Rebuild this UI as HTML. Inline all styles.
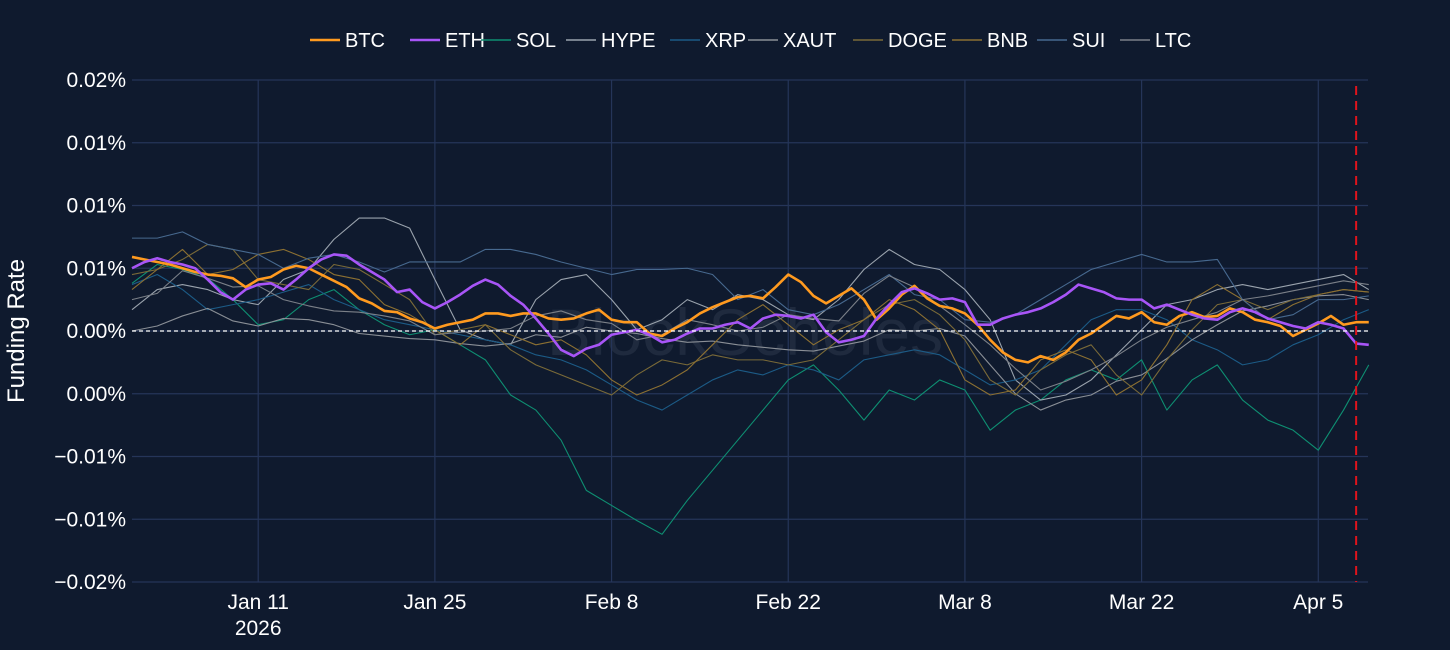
<!DOCTYPE html>
<html><head><meta charset="utf-8"><style>
html,body{margin:0;padding:0;background:#0f1a2e;}
svg{display:block;font-family:"Liberation Sans",Arial,sans-serif;}
</style></head><body>
<svg id="chart" width="1450" height="650" viewBox="0 0 1450 650">
<rect x="0" y="0" width="1450" height="650" fill="#0f1a2e"/>
<text x="745" y="355" text-anchor="middle" font-size="66" fill="#1f2a3e">BlockScholes</text>
<g id="grid"></g>
<g id="series"></g>
<g id="axes"></g>
<g id="legend"></g>
<text transform="translate(24,331) rotate(-90)" text-anchor="middle" font-size="24" fill="#ffffff">Funding Rate</text>
</svg>
<script>
// values in units of 0.001%
const yTickVals = [20,15,10,5,0,-5,-10,-15,-20];
const yTickLabels = ["0.02%","0.01%","0.01%","0.01%","0.00%","0.00%","−0.01%","−0.01%","−0.02%"];
const xTickDays = [10,24,38,52,66,80,94];
const xTickLabels = ["Jan 11","Jan 25","Feb 8","Feb 22","Mar 8","Mar 22","Apr 5"];
const markerDay = 97;
const btc = [5.9,5.7,5.5,5.3,5.0,4.7,4.5,4.4,4.2,3.5,4.1,4.3,4.9,5.2,5.0,4.5,4.0,3.5,2.6,2.2,1.6,1.5,1.0,0.7,0.2,0.5,0.7,0.9,1.4,1.4,1.2,1.4,1.4,1.0,0.9,1.0,1.4,1.7,0.9,0.7,0.7,-0.2,-0.4,0.2,0.7,1.4,1.9,2.3,2.7,2.8,2.6,3.5,4.5,3.9,2.8,2.2,2.8,3.4,2.5,0.9,1.8,2.9,3.6,2.6,2.0,1.8,1.4,0.5,-0.7,-1.7,-2.3,-2.5,-2.0,-2.3,-1.7,-0.7,-0.2,0.5,1.2,1.0,1.5,0.7,0.5,1.2,1.5,1.1,1.2,1.8,1.5,0.9,0.7,0.4,-0.4,0.1,0.6,1.2,0.5,0.7,0.7];
const eth = [5.0,5.5,5.8,5.5,5.3,5.0,4.1,3.1,2.5,3.3,3.7,3.8,3.3,4.1,5.0,5.7,6.1,6.0,5.3,4.7,4.1,3.1,3.3,2.3,1.8,2.3,2.9,3.6,4.1,3.7,2.8,2.1,1.0,-0.2,-1.5,-2.0,-1.4,-1.1,-0.3,-0.1,0.1,-0.3,-0.9,-0.7,-0.2,0.2,0.2,0.5,0.7,0.2,1.0,1.3,1.2,1.0,1.3,-0.1,-0.9,-0.7,-0.4,1.0,2.1,3.1,3.4,3.0,2.5,2.6,2.3,0.5,0.5,1.0,1.3,1.5,1.8,2.3,2.9,3.7,3.4,3.1,2.6,2.5,2.5,1.8,2.1,1.7,1.3,1.0,0.9,1.5,1.8,1.5,1.0,0.7,0.4,0.2,0.7,0.5,0.2,-1.0,-1.1];
const sol = [3.8,5.3,4.9,4.2,2.5,0.5,0.9,2.5,3.3,1.7,0.5,-0.3,0.1,-1.1,-2.3,-5.1,-6.3,-8.7,-12.7,-13.9,-15.1,-16.2,-13.5,-11.1,-8.7,-6.3,-3.9,-2.7,-4.7,-7.1,-4.7,-5.5,-3.9,-4.7,-7.9,-6.3,-5.5,-3.9,-3.1,-3.9,-2.3,-6.3,-3.9,-2.7,-5.5,-7.1,-7.9,-9.5,-6.3,-2.7];
const hype = [1.7,3.3,3.7,3.3,2.5,2.1,4.1,4.9,7.3,9.0,9.0,8.2,4.1,0.1,-0.7,-1.1,2.5,4.1,4.5,2.5,0.1,0.9,2.5,1.7,2.9,2.5,1.3,0.9,2.5,4.9,6.5,5.3,4.9,3.3,0.9,-3.9,-5.5,-5.1,-3.9,-1.9,0.1,2.1,2.5,3.3,3.7,3.3,3.7,4.1,4.5,3.3];
const xrp = [3.7,4.5,3.3,1.7,2.1,2.5,3.1,3.7,2.5,1.7,0.9,0.5,0.1,-0.3,-0.7,-1.1,-1.9,-2.3,-3.1,-4.3,-5.5,-6.3,-5.1,-3.9,-3.1,-3.5,-2.7,-3.1,-3.9,-2.3,-1.9,-1.5,-1.9,-3.1,-4.3,-3.9,-3.1,-1.1,0.9,1.7,1.7,0.9,-0.7,-1.5,-2.7,-2.3,-1.1,-0.3,0.9,1.7];
const xaut = [0.0,0.4,1.2,1.8,0.8,0.4,1.0,0.9,0.5,-0.2,-0.4,-0.6,-0.7,-1.0,-1.2,-1.0,-0.3,-0.5,0.3,0.0,-0.2,-0.6,-0.9,-0.8,-1.1,-1.3,-1.5,-1.6,-1.2,-0.8,0.1,0.0,0.2,-0.4,-2.7,-5.0,-6.3,-5.5,-5.1,-4.0,-3.5,-2.2,-0.7,0.5,1.6,2.0,2.5,2.8,2.9,2.5];
const doge = [4.5,4.9,5.7,6.9,6.5,4.1,3.7,3.3,5.3,4.9,3.7,2.5,-0.3,0.1,0.5,-1.5,-2.7,-3.5,-4.3,-5.1,-3.5,-2.3,-2.7,-1.9,-2.3,-2.3,-2.7,-2.3,-0.7,0.9,2.1,2.5,1.3,-0.7,-3.9,-5.1,-3.1,-1.9,-1.1,-3.5,-5.1,-2.3,0.1,2.1,2.5,1.7,2.5,2.9,3.3,3.1];
const bnb = [3.3,4.9,6.5,4.5,4.9,6.1,6.5,5.7,4.5,4.1,2.1,1.3,0.1,-1.1,0.5,-0.3,-1.1,-0.7,-1.9,-3.9,-5.1,-4.3,-3.1,-1.1,0.9,2.1,0.5,-1.1,0.1,0.9,2.5,1.7,0.1,-3.9,-5.1,-4.7,-2.3,-1.5,-2.3,-5.1,-3.9,-1.1,2.5,3.7,2.5,0.9,2.1,2.9,3.3,3.1];
const sui = [7.4,7.4,7.9,6.9,6.5,6.1,5.0,5.8,6.1,5.5,4.7,5.5,5.5,5.5,6.5,6.5,6.1,5.5,5.0,4.5,4.9,4.9,5.0,4.5,2.5,3.3,1.7,1.3,2.1,3.3,4.5,2.9,2.5,0.9,0.7,1.3,2.5,3.7,4.9,5.5,6.1,5.5,5.5,5.7,2.5,0.9,1.3,2.5,2.5,2.8];
const ltc = [2.5,3.0,4.8,4.2,3.5,3.6,2.5,2.0,1.6,1.5,1.2,0.8,-0.3,-0.1,0.0,0.2,1.2,1.6,0.9,0.6,-0.7,-0.3,0.9,0.5,0.0,0.3,1.3,1.0,0.8,3.0,4.4,3.5,2.0,0.5,-1.1,-3.0,-4.7,-4.0,-3.1,-2.0,-0.7,0.3,0.9,1.5,2.5,2.8,3.2,3.6,4.0,3.7];
const seriesNames = ["BTC","ETH","SOL","HYPE","XRP","XAUT","DOGE","BNB","SUI","LTC"];

const NS="http://www.w3.org/2000/svg";
const X0=132, X1=1368, PXDAY=12.62, Y0=331, PXU=12.55;
function xs(d){return X0+d*PXDAY;}
function ys(u){return Y0-u*PXU;}
function mk(tag,attrs,parent){const e=document.createElementNS(NS,tag);for(const k in attrs)e.setAttribute(k,attrs[k]);parent.appendChild(e);return e;}
const grid=document.getElementById('grid'), axes=document.getElementById('axes'), sg=document.getElementById('series'), lg=document.getElementById('legend');

yTickVals.forEach((v,i)=>{
  const l=mk('line',{x1:X0,x2:X1,y1:ys(v),y2:ys(v),stroke:'#253559','stroke-width':1.2},grid);
  
  
  const t=mk('text',{x:126,y:ys(v)+7,'text-anchor':'end','font-size':21,fill:'#ffffff'},axes);
  t.textContent=yTickLabels[i];
  
  
});
xTickDays.forEach((d,i)=>{
  const l=mk('line',{x1:xs(d),x2:xs(d),y1:80,y2:582,stroke:'#253559','stroke-width':1.2},grid);
  
  
  const t=mk('text',{x:xs(d),y:609,'text-anchor':'middle','font-size':21,fill:'#ffffff'},axes);
  t.textContent=xTickLabels[i];
  
  
});
const yr=mk('text',{x:xs(10),y:635,'text-anchor':'middle','font-size':21,fill:'#ffffff'},axes);
yr.textContent='2026';



const colors={BTC:'#ff9a1f',ETH:'#a855f7',SOL:'#0e8f72',HYPE:'#9aa3ad',XRP:'#1c5b86',XAUT:'#8a8f96',DOGE:'#7a6a38',BNB:'#8c7032',SUI:'#47698f',LTC:'#7b8088'};
const widths={BTC:2.6,ETH:2.6};
const dataMap={BTC:btc,ETH:eth,SOL:sol,HYPE:hype,XRP:xrp,XAUT:xaut,DOGE:doge,BNB:bnb,SUI:sui,LTC:ltc};
const drawOrder=["SOL","HYPE","XRP","XAUT","DOGE","BNB","SUI","LTC","BTC","ETH"];
drawOrder.forEach(n=>{
  const arr=dataMap[n];
  const step=arr.length>60?1:2;
  const pts=arr.map((v,i)=>xs(Math.min(i*step,98.1))+','+ys(v)).join(' ');
  const p=mk('polyline',{points:pts,fill:'none',stroke:colors[n],'stroke-width':widths[n]||1.1,'stroke-linejoin':'round'},sg);
  
  
});
const z=mk('line',{x1:X0,x2:X1,y1:ys(0),y2:ys(0),stroke:'#ffffff','stroke-width':1.2,'stroke-dasharray':'4,3'},sg);


const rm=mk('line',{x1:xs(markerDay),x2:xs(markerDay),y1:86,y2:582,stroke:'#e0141c','stroke-width':2,'stroke-dasharray':'9,6'},sg);



const legX=[310,410,481,566,670,748,853,952,1037,1120];
seriesNames.forEach((n,i)=>{
  const g=mk('g',{},lg);
  
  
  mk('line',{x1:legX[i],x2:legX[i]+30,y1:40,y2:40,stroke:colors[n],'stroke-width':widths[n]?2.6:1.5},g);
  const t=mk('text',{x:legX[i]+35,y:47,'font-size':20,fill:'#ffffff'},g);
  t.textContent=n;
});
</script>
</body></html>
